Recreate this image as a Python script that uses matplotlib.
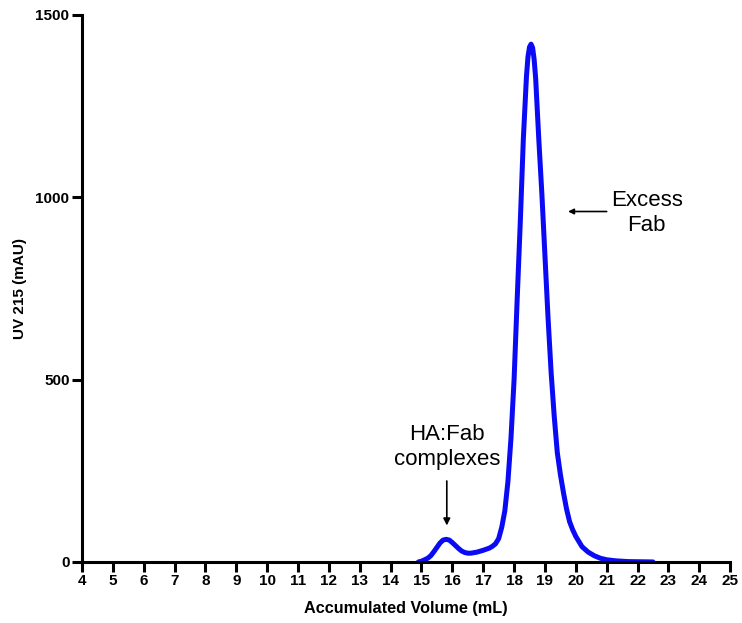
import numpy as np
import matplotlib.pyplot as plt

# Chromatogram
volume_ml = [14.9, 15.0, 15.2, 15.3, 15.4, 15.5, 15.6, 15.7, 15.8, 15.9,
             16.0, 16.1, 16.2, 16.3, 16.4, 16.5, 16.6, 16.8, 17.0, 17.2,
             17.3, 17.4, 17.5, 17.6, 17.7, 17.8, 17.9, 18.0, 18.1, 18.2,
             18.3, 18.4, 18.45, 18.5, 18.55, 18.6, 18.65, 18.7, 18.8, 18.9,
             19.0, 19.1, 19.2, 19.3, 19.4, 19.5, 19.6, 19.7, 19.8, 19.9,
             20.0, 20.2, 20.4, 20.6, 20.8, 21.0, 21.3, 21.7, 22.5]
uv_mau = [0, 2, 10, 17, 28, 40, 52, 60, 62, 60,
          53, 45, 37, 30, 26, 24, 24, 27, 32, 38,
          43, 50, 64, 95, 140, 220, 340, 500, 720, 930,
          1160, 1330, 1385, 1412, 1420, 1410, 1378, 1325, 1160, 1010,
          840, 670, 520, 400, 300, 240, 190, 145, 110, 88,
          70, 42, 27, 17, 10, 6, 3, 1, 0]

x_ticks = list(range(4, 26))
y_ticks = [0, 500, 1000, 1500]

plt.rcParams['font.family'] = ['Liberation Sans', 'DejaVu Sans']

fig = plt.figure(figsize=(7.42, 6.23), dpi=100)
ax = fig.add_axes([0.1105, 0.098, 0.8735, 0.878])

ax.plot(volume_ml, uv_mau, color='#0a0af5', linewidth=3.6,
        solid_capstyle='round', solid_joinstyle='round')

ax.set_xlim(4, 25)
ax.set_ylim(0, 1500)
ax.set_xticks(x_ticks)
ax.set_yticks(y_ticks)
ax.tick_params(axis='both', width=2.2, length=7, labelsize=11, pad=2)
for lbl in ax.get_xticklabels() + ax.get_yticklabels():
    lbl.set_fontweight('bold')

for side in ['top', 'right']:
    ax.spines[side].set_visible(False)
for side in ['left', 'bottom']:
    ax.spines[side].set_linewidth(2.2)
ax.spines['bottom'].set_capstyle('projecting')

ax.set_xlabel('Accumulated Volume (mL)', fontsize=11.7, fontweight='bold', labelpad=9)
ax.set_ylabel('UV 215 (mAU)', fontsize=11, fontweight='bold', labelpad=6)

# annotations
ax.annotate('', xy=(15.82, 100), xytext=(15.82, 222),
            arrowprops=dict(arrowstyle='-|>', color='black', lw=1.2,
                            mutation_scale=10, shrinkA=0, shrinkB=0))
ax.text(15.82, 315, 'HA:Fab\ncomplexes', ha='center', va='center',
        fontsize=16, linespacing=1.3)

ax.annotate('', xy=(19.75, 961), xytext=(21.0, 961),
            arrowprops=dict(arrowstyle='-|>', color='black', lw=1.2,
                            mutation_scale=8, shrinkA=0, shrinkB=0))
ax.text(22.3, 957, 'Excess\nFab', ha='center', va='center',
        fontsize=16, linespacing=1.3)

fig.savefig('out.png', dpi=100)
